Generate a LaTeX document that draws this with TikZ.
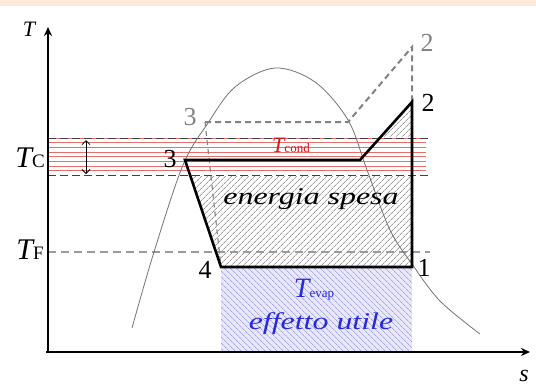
\documentclass[tikz,border=0pt]{standalone}
\usepackage{fontspec}
\setmainfont{Liberation Serif}
\newfontfamily\widefont[FakeStretch=1.33]{Liberation Serif}
\usetikzlibrary{patterns.meta,arrows.meta}
\definecolor{peach}{RGB}{253,233,218}
\definecolor{bandred}{RGB}{232,110,110}
\definecolor{txtred}{RGB}{225,20,20}
\definecolor{txtblue}{RGB}{40,40,220}
\definecolor{hatchblue}{RGB}{135,135,225}
\definecolor{lavender}{RGB}{232,232,250}
\definecolor{dgray}{RGB}{130,130,130}
\tikzset{
  axis/.style={line width=2.4pt,-{Stealth[length=9pt,width=8pt]}},
  cycleline/.style={line width=2.6pt,line join=miter},
  ghostline/.style={line width=2pt,dgray,dash pattern=on 6pt off 4pt},
  thindash/.style={line width=1.1pt,dgray!80,dash pattern=on 8pt off 5pt},
  dome/.style={line width=0.8pt,gray!90!black},
  redline/.style={line width=1pt,bandred},
  hatchgray/.style={pattern={Lines[angle=45,distance=4pt,line width=0.6pt]},pattern color=gray!80!black},
  hatchblue/.style={pattern={Lines[angle=-45,distance=4pt,line width=0.6pt]},pattern color=hatchblue},
  lbl/.style={inner sep=0pt},
}
\newcommand{\dig}[1]{{\fontsize{26}{26}\selectfont #1}}
\begin{document}
\begin{tikzpicture}[x=1pt,y=-1pt]
\useasboundingbox (0,0) rectangle (536,388);
\fill[peach] (0,0) rectangle (536,6);
% points
\coordinate (p1) at (412,267);
\coordinate (p2) at (412,102);
\coordinate (p3) at (185,160);
\coordinate (p4) at (221,267);
\coordinate (pk) at (360,160);
\coordinate (q3) at (205,122);
\coordinate (qk) at (348,122);
\coordinate (q2) at (412,47);
\coordinate (br) at (412,352);
% hatched areas
\fill[white] (p3) -- (pk) -- (p2) -- (p1) -- (p4) -- cycle;
\fill[hatchgray] (p3) -- (pk) -- (p2) -- (p1) -- (p4) -- cycle;
\fill[lavender] (p4) rectangle (br);
\fill[hatchblue] (p4) rectangle (br);
% condenser band
\fill[white] (48,137) rectangle (428,176);
\foreach \k in {0,...,7}{\draw[redline] (48,138+\k*4.7) -- (426,138+\k*4.7);}
\coordinate (bandtl) at (48,138);
\coordinate (bandtr) at (428,138);
\coordinate (bandbl) at (48,175.6);
\coordinate (bandbr) at (428,175.6);
\draw[line width=0.9pt,black!75,dash pattern=on 8pt off 4pt] (bandtl) -- (bandtr);
\draw[line width=0.9pt,black!75,dash pattern=on 8pt off 4pt] (bandbl) -- (bandbr);
\coordinate (da) at (86,140);
\coordinate (db) at (86,174);
\draw[line width=0.8pt,{Straight Barb[length=4pt]}-{Straight Barb[length=4pt]}] (da) -- (db);
% TF line
\coordinate (tfl) at (48,252);
\coordinate (tfr) at (430,252);
\draw[thindash] (tfl) -- (tfr);
% dome
\draw[dome] plot[smooth,tension=0.55] coordinates {(132,328) (154,252) (183,165) (208,123) (235,87) (275,68) (315,82) (348,120) (367,170) (390,230) (412,264) (440,301) (480,334)};
% ghost cycle
\draw[ghostline] (q3) -- (qk) -- (q2) -- (p2);
\draw[line width=1.1pt,dgray,dash pattern=on 5pt off 4pt] (q3) -- (p4);
% cycle
\draw[cycleline] (p3) -- (pk) -- (p2) -- (p1) -- (p4) -- cycle;
% axes
\draw[axis] (46,352) -- (530,352);
\draw[axis] (48,353) -- (48,27);
% labels
\node[lbl] (tl) at (29,29) {\fontsize{22}{22}\selectfont\itshape T};
\node[lbl] (sl) at (524,376) {\fontsize{24}{24}\selectfont\itshape s};
\node[lbl] (tcl) at (30,158) {\fontsize{30}{30}\selectfont\itshape T\fontsize{19}{19}\selectfont\upshape C};
\node[lbl] (tfl2) at (30,250) {\fontsize{30}{30}\selectfont\itshape T\fontsize{19}{19}\selectfont\upshape F};
\node[lbl,dgray] (l3g) at (190,117) {\dig{3}};
\node[lbl] (l3) at (170,159) {\dig{3}};
\node[lbl,dgray] (l2g) at (427,43) {\dig{2}};
\node[lbl] (l2) at (428,103) {\dig{2}};
\node[lbl] (l4) at (205,270) {\dig{4}};
\node[lbl] (l1) at (424,268) {\dig{1}};
\node[lbl,txtred] (tcond) at (291,145) {\fontsize{22}{22}\selectfont\itshape T\fontsize{13}{13}\selectfont\upshape cond};
\node[lbl] (es) at (311,199) {\widefont\itshape\fontsize{24}{24}\selectfont energia spesa};
\node[lbl,txtblue] (tevap) at (314,290) {\fontsize{28}{28}\selectfont\itshape T\fontsize{13}{13}\selectfont\upshape evap};
\node[lbl,txtblue] (eu) at (321,324) {\widefont\itshape\fontsize{24}{24}\selectfont effetto utile};
\end{tikzpicture}
\end{document}
